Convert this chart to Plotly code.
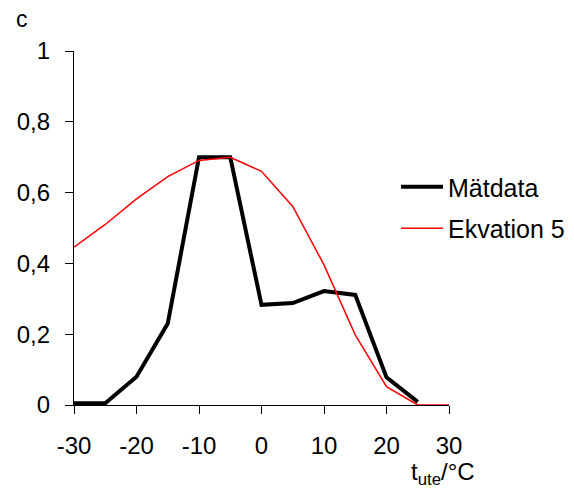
import plotly.graph_objects as go

# Outdoor temperature (°C)
t_ute = [-30, -25, -20, -15, -10, -5, 0, 5, 10, 15, 20, 25]
matdata = [0.005, 0.005, 0.08, 0.23, 0.70, 0.70, 0.283, 0.288, 0.322, 0.311, 0.078, 0.009]

t_ekv = [-30, -25, -20, -15, -10, -5, 0, 5, 10, 15, 20, 25, 30]
ekvation5 = [0.446, 0.51, 0.582, 0.645, 0.691, 0.70, 0.66, 0.561, 0.396, 0.198, 0.052, 0.0, 0.0]

x_ticks = [-30, -20, -10, 0, 10, 20, 30]
x_tick_text = ["-30", "-20", "-10", "0", "10", "20", "30"]
y_ticks = [0, 0.2, 0.4, 0.6, 0.8, 1]
y_tick_text = ["0", "0,2", "0,4", "0,6", "0,8", "1"]

FONT = "Liberation Sans, Arial, sans-serif"
W, H = 574, 488

fig = go.Figure()
fig.add_trace(go.Scatter(x=t_ute, y=matdata, mode="lines", name="Mätdata",
                         legendgroup="a",
                         line=dict(color="black", width=4)))
fig.add_trace(go.Scatter(x=t_ekv, y=ekvation5, mode="lines", name="Ekvation 5",
                         legendgroup="b",
                         line=dict(color="red", width=1.5)))

fig.update_layout(
    width=W, height=H,
    margin=dict(l=74, r=125, t=51, b=83, autoexpand=False),
    plot_bgcolor="white", paper_bgcolor="white",
    font=dict(family=FONT, size=24, color="black"),
    showlegend=True,
    legend=dict(xref="container", yref="container",
                x=396 / W, y=1 - 164 / H, xanchor="left", yanchor="top",
                font=dict(size=25), bgcolor="rgba(0,0,0,0)",
                itemwidth=42, tracegroupgap=6),
    xaxis=dict(range=[-30, 30], tickvals=x_ticks, ticktext=x_tick_text,
               showgrid=False, zeroline=False,
               showline=True, linecolor="black", linewidth=1.2,
               ticks="outside", ticklen=8, tickcolor="black", tickwidth=1.2,
               tickfont=dict(size=24), ticklabelstandoff=11),
    yaxis=dict(range=[0, 1], tickvals=y_ticks, ticktext=y_tick_text,
               showgrid=False, zeroline=False,
               showline=True, linecolor="black", linewidth=1.2,
               ticks="outside", ticklen=8, tickcolor="black", tickwidth=1.2,
               tickfont=dict(size=24), ticklabelstandoff=10),
    annotations=[
        dict(text="c", xref="paper", yref="paper",
             x=-(74 - 22) / 375, y=1 + (51 - 19) / 354,
             xanchor="center", yanchor="middle", showarrow=False,
             font=dict(size=23)),
        dict(text="t<sub>ute</sub>/°C", xref="paper", yref="paper",
             x=(477 - 74) / 375, y=-(473 - 405) / 354,
             xanchor="right", yanchor="middle", showarrow=False,
             font=dict(size=24)),
    ],
)

fig.write_html("out.html")
